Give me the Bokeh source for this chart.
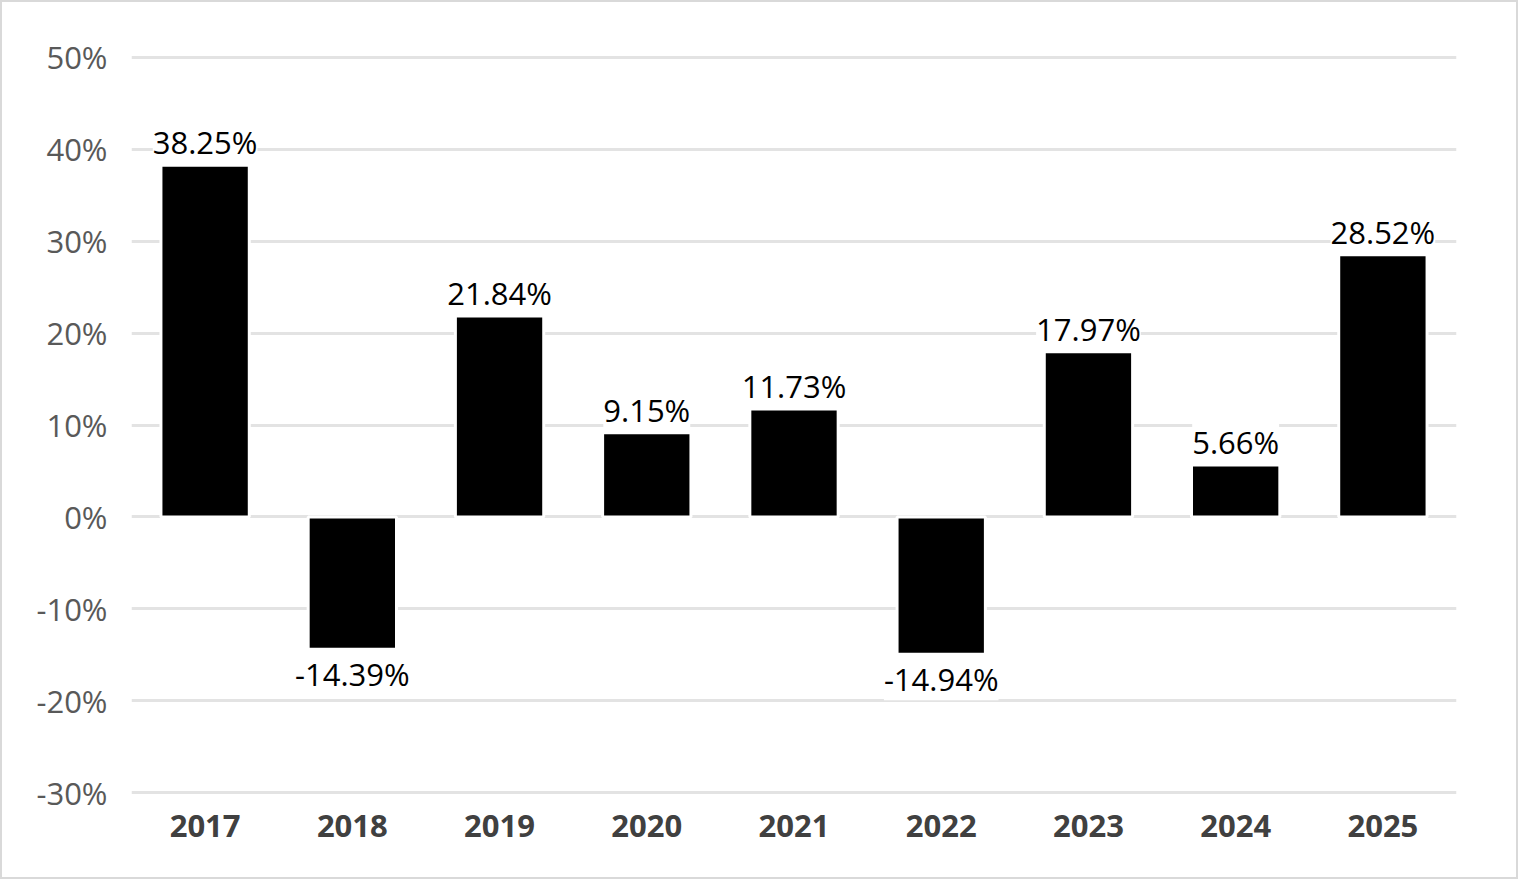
from bokeh.plotting import figure
from bokeh.models import ColumnDataSource, FixedTicker, PrintfTickFormatter, LabelSet, FactorRange, Range1d
from bokeh.core.properties import value
from bokeh.embed import file_html
from bokeh.resources import INLINE

years = ["2017", "2018", "2019", "2020", "2021", "2022", "2023", "2024", "2025"]
returns = [38.25, -14.39, 21.84, 9.15, 11.73, -14.94, 17.97, 5.66, 28.52]
y_ticks = [-30, -20, -10, 0, 10, 20, 30, 40, 50]

labels = [f"{v:.2f}%" for v in returns]
src = ColumnDataSource(dict(x=years, top=returns, label=labels))
pos = ColumnDataSource(dict(x=[y for y, v in zip(years, returns) if v >= 0],
                            top=[v for v in returns if v >= 0],
                            label=[l for l, v in zip(labels, returns) if v >= 0]))
neg = ColumnDataSource(dict(x=[y for y, v in zip(years, returns) if v < 0],
                            top=[v for v in returns if v < 0],
                            label=[l for l, v in zip(labels, returns) if v < 0]))

p = figure(width=1518, height=879, x_range=FactorRange(*years), y_range=Range1d(-30.4, 50.4),
           output_backend="svg", toolbar_location=None,
           min_border_left=129, min_border_right=64, min_border_top=51, min_border_bottom=85)
p.styles = {"border": "2px solid #d9d9d9", "box-sizing": "border-box"}
p.outline_line_color = None
p.background_fill_color = "white"
p.border_fill_color = "white"

p.vbar(x="x", top="top", bottom=0, width=0.6, source=src,
       fill_color="black", line_color="white", line_width=3)

font = "Open Sans"
p.add_layout(LabelSet(x="x", y="top", text="label", source=pos, text_align="center",
                      text_baseline="bottom", y_offset=2, text_font=value(font),
                      text_font_size=value("31px"),
                      text_color="black", background_fill_color="white"))
p.add_layout(LabelSet(x="x", y="top", text="label", source=neg, text_align="center",
                      text_baseline="top", y_offset=-4, text_font=value(font),
                      text_font_size=value("31px"),
                      text_color="black", background_fill_color="white"))

p.xgrid.grid_line_color = None
p.ygrid.grid_line_color = "#e3e3e3"
p.ygrid.grid_line_width = 3
p.ygrid.ticker = FixedTicker(ticks=y_ticks)

p.yaxis.ticker = FixedTicker(ticks=y_ticks)
p.yaxis.formatter = PrintfTickFormatter(format="%d%%")
p.yaxis.axis_line_color = None
p.yaxis.major_tick_line_color = None
p.yaxis.minor_tick_line_color = None
p.yaxis.major_label_text_font = font
p.yaxis.major_label_text_font_size = "31px"
p.yaxis.major_label_text_color = "#595959"
p.yaxis.major_label_standoff = 18

p.xaxis.axis_line_color = None
p.xaxis.major_tick_line_color = None
p.xaxis.minor_tick_line_color = None
p.xaxis.major_label_text_font = font
p.xaxis.major_label_text_font_size = "31px"
p.xaxis.major_label_text_font_style = "bold"
p.xaxis.major_label_text_color = "#404040"
p.xaxis.major_label_standoff = 12

open("out.html", "w").write(file_html(p, INLINE))
